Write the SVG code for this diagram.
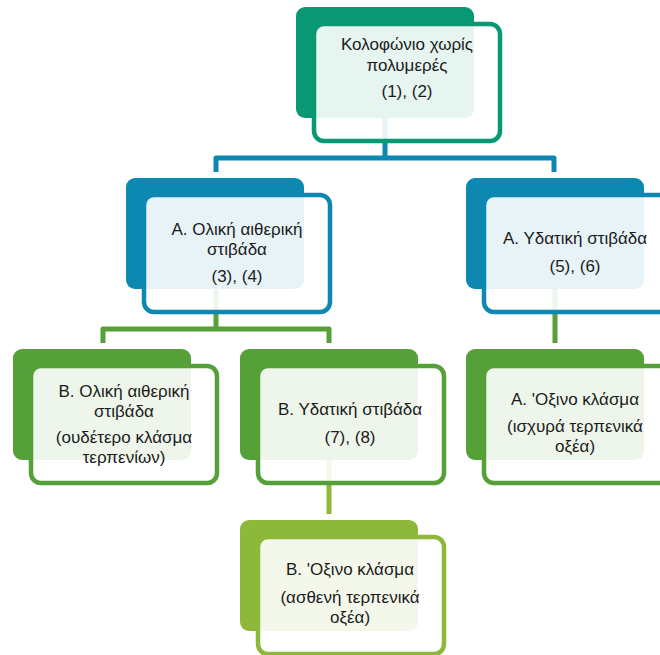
<svg xmlns="http://www.w3.org/2000/svg" width="660" height="655" viewBox="0 0 660 655">
<style>
.bg{stroke:none}
.fr{fill:#ffffff;fill-opacity:0.9;stroke-width:4.5}
.t{font-family:"Liberation Sans","Noto Sans",sans-serif;font-size:17px;fill:#1b1b1b;text-anchor:middle}
.c{fill:none;stroke-width:5;stroke-linejoin:round}
.teal .bg{fill:#0a9874}.teal .fr{stroke:#0a9874}
.blue .bg{fill:#0c88b1}.blue .fr{stroke:#0c88b1}
.grn .bg{fill:#56a03a}.grn .fr{stroke:#56a03a}
.lgr .bg{fill:#8db83a}.lgr .fr{stroke:#8db83a}
</style>
<rect width="660" height="655" fill="#ffffff"/>
<g id="connectors">
<path class="c" stroke="#0c88b1" d="M385,118 V158 M216,172 V158 H554 V172"/>
<path class="c" stroke="#56a03a" d="M216,289 V329 M103,343 V329 H329 V343 M555,289 V343"/>
<path class="c" stroke="#8db83a" d="M329,460 V514"/>
</g>
<g id="n_top" class="teal">
<rect class="bg" x="296" y="7" width="178" height="111" rx="9"/>
<rect class="fr" x="314" y="24" width="186" height="117" rx="10"/>
<text class="t" x="407" y="50">Κολοφώνιο χωρίς</text>
<text class="t" x="407" y="71">πολυμερές</text>
<text class="t" x="407" y="97">(1), (2)</text>
</g>
<g id="n_ether_A" class="blue">
<rect class="bg" x="126" y="178" width="178" height="111" rx="9"/>
<rect class="fr" x="144" y="195" width="186" height="117" rx="10"/>
<text class="t" x="237" y="235">Α. Ολική αιθερική</text>
<text class="t" x="237" y="255">στιβάδα</text>
<text class="t" x="237" y="282">(3), (4)</text>
</g>
<g id="n_water_A" class="blue">
<rect class="bg" x="466" y="178" width="178" height="111" rx="9"/>
<rect class="fr" x="484" y="195" width="186" height="117" rx="10"/>
<text class="t" x="575" y="244">Α. Υδατική στιβάδα</text>
<text class="t" x="575" y="272">(5), (6)</text>
</g>
<g id="n_ether_B" class="grn">
<rect class="bg" x="13" y="349" width="178" height="111" rx="9"/>
<rect class="fr" x="31" y="366" width="186" height="117" rx="10"/>
<text class="t" x="124" y="397">Β. Ολική αιθερική</text>
<text class="t" x="124" y="417">στιβάδα</text>
<text class="t" x="124" y="443">(ουδέτερο κλάσμα</text>
<text class="t" x="124" y="463">τερπενίων)</text>
</g>
<g id="n_water_B" class="grn">
<rect class="bg" x="240" y="349" width="178" height="111" rx="9"/>
<rect class="fr" x="258" y="366" width="186" height="117" rx="10"/>
<text class="t" x="350" y="415">Β. Υδατική στιβάδα</text>
<text class="t" x="350" y="443">(7), (8)</text>
</g>
<g id="n_acid_A" class="grn">
<rect class="bg" x="466" y="349" width="178" height="111" rx="9"/>
<rect class="fr" x="484" y="366" width="186" height="117" rx="10"/>
<text class="t" x="575" y="405">Α. 'Οξινο κλάσμα</text>
<text class="t" x="575" y="432">(ισχυρά τερπενικά</text>
<text class="t" x="575" y="452">οξέα)</text>
</g>
<g id="n_acid_B" class="lgr">
<rect class="bg" x="240" y="520" width="178" height="111" rx="9"/>
<rect class="fr" x="258" y="537" width="186" height="117" rx="10"/>
<text class="t" x="350" y="575">Β. 'Οξινο κλάσμα</text>
<text class="t" x="350" y="603">(ασθενή τερπενικά</text>
<text class="t" x="350" y="623">οξέα)</text>
</g>
</svg>
